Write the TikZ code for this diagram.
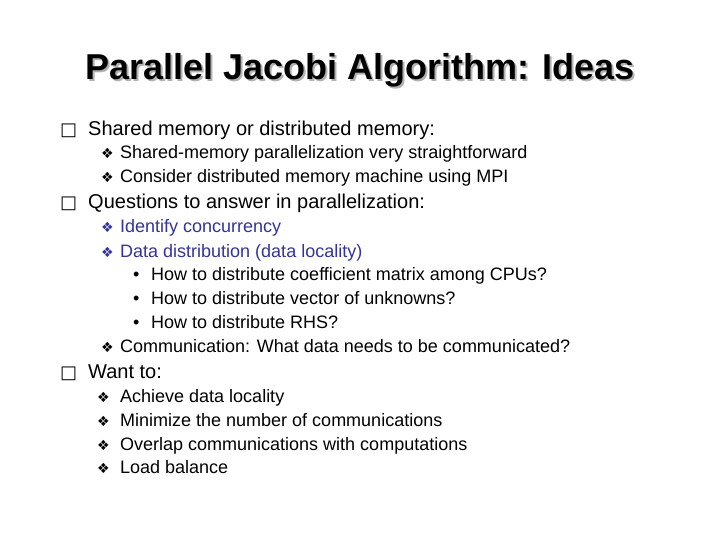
\documentclass[tikz,border=0pt]{standalone}
\usepackage{fontspec}
\setmainfont{Liberation Sans}
\newfontfamily\symf{DejaVu Sans}
\definecolor{blu}{RGB}{51,51,153}
\begin{document}
\begin{tikzpicture}[x=1pt,y=-1pt,
  every node/.style={inner sep=0pt,anchor=base west},
  lone/.style={font=\fontsize{20}{24}\selectfont},
  ltwo/.style={font=\fontsize{18}{21}\selectfont},
  sq/.style={font=\symf\fontsize{18}{21}\selectfont},
  dm/.style={font=\symf\fontsize{14}{17}\selectfont}]
\useasboundingbox (0,0) rectangle (720,540);
\node[anchor=center,gray!60,font=\bfseries\fontsize{36}{40}\selectfont] (ts) at (362,72) {Parallel Jacobi Algorithm: Ideas};
\node[anchor=center,font=\bfseries\fontsize{36}{40}\selectfont] (t) at (360,70) {Parallel Jacobi Algorithm: Ideas};
% level 1
\foreach \y/\n/\s in {129/a/{Shared memory or distributed memory:},202/b/{Questions to answer in parallelization:},371/c/{Want to:}}{
  \node[sq] (q\n) at (60,\y+7) {□};
  \node[lone] (l\n) at (88,\y+7) {\s};}
% level 2
\foreach \y/\n/\s/\c in {153/a/{Shared-memory parallelization very straightforward}/black,
  177/b/{Consider distributed memory machine using MPI}/black,
  227/c/{Identify concurrency}/blu,
  251/d/{Data distribution (data locality)}/blu,
  346/e/{Communication: What data needs to be communicated?}/black}{
  \node[dm,text=\c] (d\n) at (101,\y+6) {❖};
  \node[ltwo,text=\c] (m\n) at (120,\y+6) {\s};}
\foreach \y/\n/\s in {396/f/{Achieve data locality},420/g/{Minimize the number of communications},444/h/{Overlap communications with computations},467/i/{Load balance}}{
  \node[dm] (d\n) at (97,\y+6) {❖};
  \node[ltwo] (m\n) at (120,\y+6) {\s};}
% level 3
\foreach \y/\n/\s in {274/a/{How to distribute coefficient matrix among CPUs?},298/b/{How to distribute vector of unknowns?},322/c/{How to distribute RHS?}}{
  \node[ltwo] (b\n) at (133,\y+6) {•};
  \node[ltwo] (k\n) at (151,\y+6) {\s};}
\end{tikzpicture}
\end{document}
